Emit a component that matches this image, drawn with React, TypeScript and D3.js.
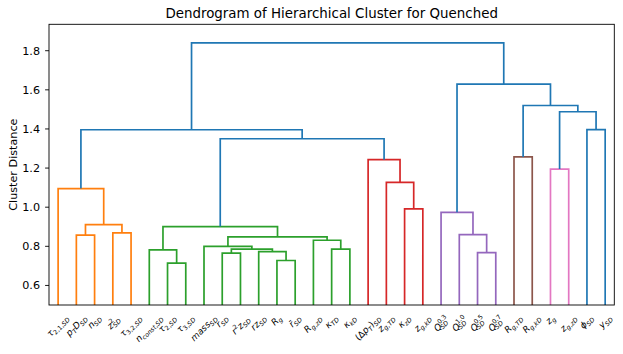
import React, { useEffect, useRef } from 'react';
import * as d3 from 'd3';

// Leaf labels in display order (mathtext-like: _{sub}, ^{sup})
const leafLabels = [
  'τ_{2,1,SD}', 'p_TD_{SD}', 'n_{SD}', 'z^2_{SD}', 'τ_{3,2,SD}',
  'n_{const,SD}', 'τ_{2,SD}', 'τ_{3,SD}', 'mass_{SD}', 'r_{SD}', 'r^2z_{SD}', 'rz_{SD}',
  'R_g', 'r̄_{SD}', 'R_{g,zD}', 'κ_{TD}', 'κ_{kD}',
  '(Δp_T)_{SD}', 'z_{g,TD}', 'κ_{zD}', 'z_{g,kD}',
  'Q^{0.3}_{SD}', 'Q^{1.0}_{SD}', 'Q^{0.5}_{SD}', 'Q^{0.7}_{SD}',
  'R_{g,TD}', 'R_{g,kD}', 'z_g', 'z_{g,zD}', 'ϕ_{SD}', 'y_{SD}',
];

// Linkage rows: [left, right, height]; ids < 31 are leaves, id 31+k is row k
const merges: [number, number, number][] = [
  [1, 2, 0.857], [3, 4, 0.869], [31, 32, 0.911], [0, 33, 1.095],
  [6, 7, 0.714], [5, 35, 0.782], [12, 13, 0.7275], [11, 37, 0.773],
  [9, 10, 0.765], [39, 38, 0.786], [8, 40, 0.8], [15, 16, 0.786],
  [14, 42, 0.831], [41, 43, 0.848], [36, 44, 0.901],
  [19, 20, 0.991], [18, 46, 1.127], [17, 47, 1.243],
  [23, 24, 0.768], [22, 49, 0.86], [21, 50, 0.974],
  [25, 26, 1.257],
  [27, 28, 1.195],
  [29, 30, 1.397], [53, 54, 1.488], [52, 55, 1.52], [51, 56, 1.629],
  [45, 48, 1.35], [34, 58, 1.396], [59, 57, 1.84],
];

const yTicks = [0.6, 0.8, 1.0, 1.2, 1.4, 1.6, 1.8];
const clusterPalette = ['#ff7f0e', '#2ca02c', '#d62728', '#9467bd', '#8c564b', '#e377c2', '#bcbd22', '#17becf'];
const aboveColor = '#1f77b4';

const W = 623, H = 354;
const plot = { left: 49, right: 614.3, top: 24.3, bottom: 305 };

type Seg = { t: string; k: 'n' | 'sub' | 'sup' };
function parseMath(s: string): Seg[] {
  const segs: Seg[] = [];
  let i = 0, buf = '';
  while (i < s.length) {
    const c = s[i];
    if (c === '_' || c === '^') {
      if (buf) { segs.push({ t: buf, k: 'n' }); buf = ''; }
      i++;
      let arg = '';
      if (s[i] === '{') { const j = s.indexOf('}', i); arg = s.slice(i + 1, j); i = j + 1; }
      else { arg = s[i]; i++; }
      segs.push({ t: arg, k: c === '_' ? 'sub' : 'sup' });
    } else { buf += c; i++; }
  }
  if (buf) segs.push({ t: buf, k: 'n' });
  return segs;
}

function appendStyled(parent: any, text: string) {
  const runs: { t: string; it: boolean }[] = [];
  for (const ch of Array.from(text)) {
    const it = /[A-Za-zα-ωϕ\u0304]/.test(ch);
    if (runs.length && runs[runs.length - 1].it === it) runs[runs.length - 1].t += ch;
    else runs.push({ t: ch, it });
  }
  runs.forEach(r => parent.append('tspan').attr('font-style', r.it ? 'italic' : 'normal').text(r.t));
}

function renderMath(textSel: any, s: string, fs: number) {
  const segs = parseMath(s);
  let shift = 0;
  const subShift = 0.22 * fs, supShift = -0.42 * fs, small = 0.7 * fs;
  segs.forEach((sg, idx) => {
    const ts = textSel.append('tspan');
    let target = 0;
    if (sg.k === 'n') { ts.attr('font-size', fs); target = 0; }
    else { ts.attr('font-size', small); target = sg.k === 'sub' ? subShift : supShift; }
    ts.attr('dy', target - shift);
    shift = target;
    const prev = segs[idx - 1];
    if (prev && prev.k === 'sup' && sg.k === 'sub') {
      ts.attr('dx', -Array.from(prev.t).length * 0.62 * small);
    }
    appendStyled(ts, sg.t);
  });
}

export default function App() {
  const ref = useRef<SVGSVGElement>(null);
  useEffect(() => {
    const svg = d3.select(ref.current);
    svg.selectAll('*').remove();
    const n = leafLabels.length;
    const x = d3.scaleLinear().domain([0, n * 10]).range([plot.left, plot.right]);
    const y = d3.scaleLinear().domain([0.5, 1.935]).range([plot.bottom, plot.top]);

    svg.append('rect').attr('width', W).attr('height', H).attr('fill', 'white');

    const px: number[] = [], ph: number[] = [], kids: [number, number][] = [];
    for (let i = 0; i < n; i++) { px.push(10 * i + 5); ph.push(0); kids.push([-1, -1]); }
    merges.forEach(([a, b, h]) => { px.push((px[a] + px[b]) / 2); ph.push(h); kids.push([a, b]); });
    const root = px.length - 1;
    const threshold = 0.7 * d3.max(merges, m => m[2])!;
    const color: string[] = [];
    let ci = 0;
    const assign = (node: number, c: string | null) => {
      if (node < n) return;
      let cc = c;
      if (!cc && ph[node] < threshold) cc = clusterPalette[ci++ % clusterPalette.length];
      color[node] = cc ?? aboveColor;
      assign(kids[node][0], cc);
      assign(kids[node][1], cc);
    };
    assign(root, null);

    const defs = svg.append('defs');
    defs.append('clipPath').attr('id', 'plotclip').append('rect')
      .attr('x', plot.left).attr('y', plot.top)
      .attr('width', plot.right - plot.left).attr('height', plot.bottom - plot.top);

    const lg = svg.append('g').attr('clip-path', 'url(#plotclip)');
    for (let k = n; k <= root; k++) {
      const [a, b] = kids[k];
      const p = d3.path();
      p.moveTo(x(px[a]), y(ph[a]));
      p.lineTo(x(px[a]), y(ph[k]));
      p.lineTo(x(px[b]), y(ph[k]));
      p.lineTo(x(px[b]), y(ph[b]));
      lg.append('path').attr('d', p.toString()).attr('fill', 'none')
        .attr('stroke', color[k]).attr('stroke-width', 1.7).attr('stroke-linejoin', 'miter');
    }

    svg.append('rect').attr('x', plot.left).attr('y', plot.top)
      .attr('width', plot.right - plot.left).attr('height', plot.bottom - plot.top)
      .attr('fill', 'none').attr('stroke', '#000').attr('stroke-width', 0.9);

    const font = 'DejaVu Sans, sans-serif';
    const yt = svg.append('g');
    yTicks.forEach(v => {
      yt.append('line').attr('x1', plot.left - 3.9).attr('x2', plot.left)
        .attr('y1', y(v)).attr('y2', y(v)).attr('stroke', '#000').attr('stroke-width', 0.9);
      yt.append('text').attr('x', plot.left - 9).attr('y', y(v)).attr('dy', '0.35em')
        .attr('text-anchor', 'end').attr('font-family', font).attr('font-size', 11.2)
        .attr('fill', '#000').text(v.toFixed(1));
    });

    svg.append('text').attr('transform', `translate(17,${(plot.top + plot.bottom) / 2}) rotate(-90)`)
      .attr('text-anchor', 'middle').attr('font-family', font).attr('font-size', 11.2)
      .attr('fill', '#000').text('Cluster Distance');

    svg.append('text').attr('x', (plot.left + plot.right) / 2).attr('y', 18)
      .attr('text-anchor', 'middle').attr('font-family', font).attr('font-size', 13.4)
      .attr('fill', '#000').text('Dendrogram of Hierarchical Cluster for Quenched');

    const labelTop = plot.bottom + 8;
    const xl = svg.append('g');
    leafLabels.forEach((lab, i) => {
      const outer = xl.append('g').attr('transform', `translate(${x(10 * i + 5)},${labelTop})`);
      const inner = outer.append('g').attr('transform', 'rotate(-45)');
      const t = inner.append('text').attr('text-anchor', 'start').attr('font-family', font)
        .attr('fill', '#000');
      renderMath(t, lab, 9);
      const bb = (outer.node() as SVGGElement).getBBox();
      inner.attr('transform', `translate(${-(bb.x + bb.width / 2)},${-bb.y}) rotate(-45)`);
    });
  }, []);
  return (
    <svg ref={ref} width={W} height={H} style={{ position: 'absolute', left: 0, top: 0 }} />
  );
}
